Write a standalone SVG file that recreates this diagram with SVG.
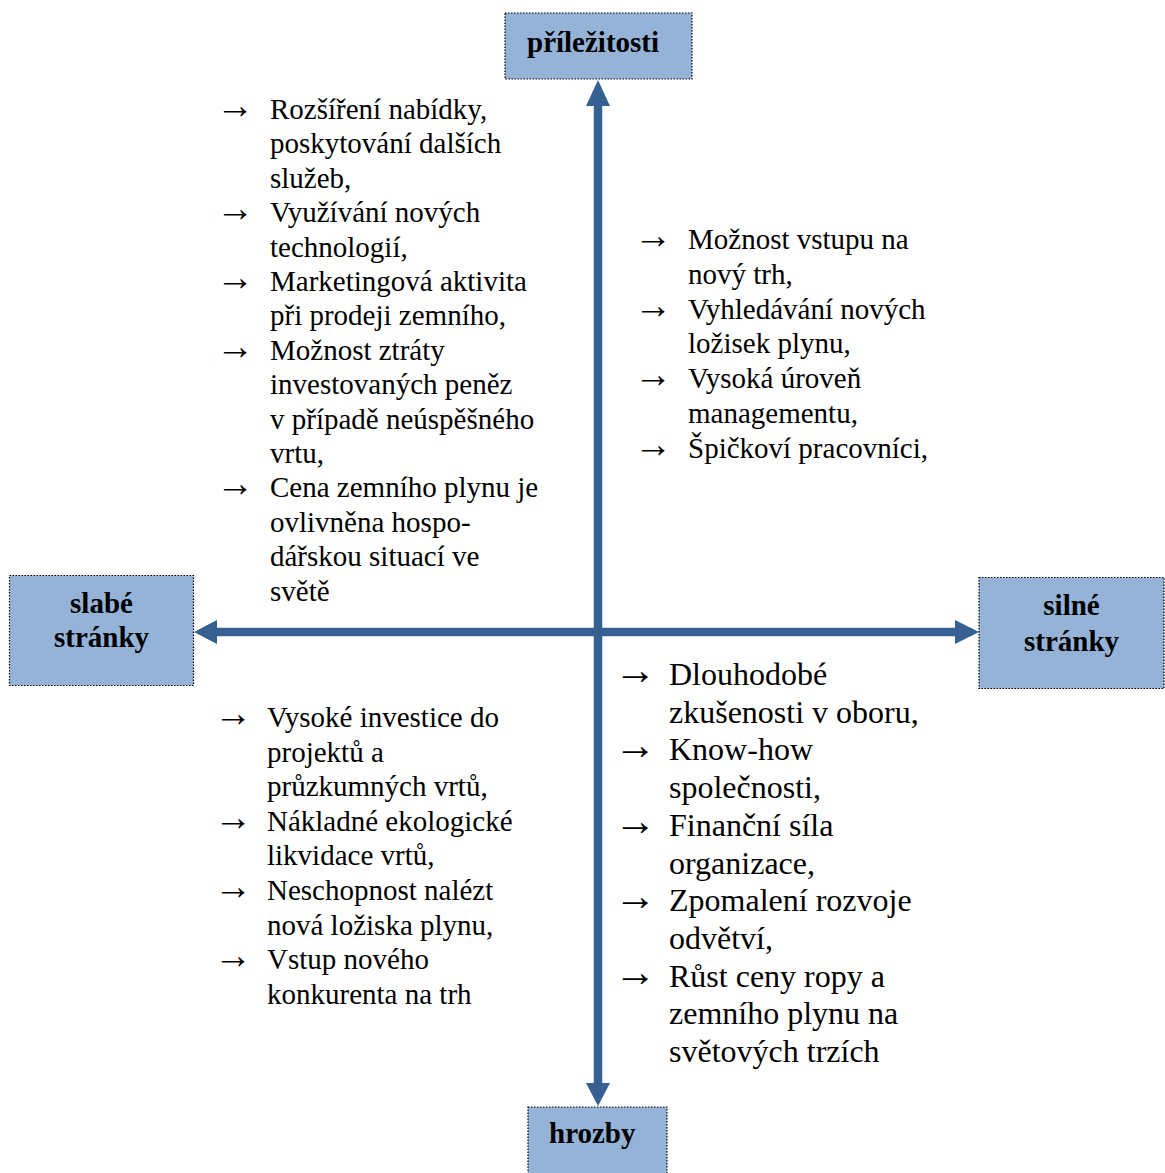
<svg xmlns="http://www.w3.org/2000/svg" width="1165" height="1173" viewBox="0 0 1165 1173">
<style>
.box{fill:#95B3D7;stroke:#000;stroke-width:1.2;stroke-dasharray:1.5 1.5}
.lbl{font-family:"Liberation Serif","Times New Roman",serif;font-weight:bold;font-size:29px;fill:#000}
.t{font-family:"Liberation Serif","Times New Roman",serif;font-size:29px;fill:#000}
.tb{font-family:"Liberation Serif","Times New Roman",serif;font-size:32px;fill:#000}
.ar{font-size:38px}
.tb .ar{font-size:42px}
.ax{stroke:#376092;stroke-width:8.5;fill:none}
.ah{fill:#376092}
</style>
<rect width="1165" height="1173" fill="#fff"/>
<g id="connectors">
<line class="ax" x1="598" y1="104" x2="598" y2="1085"/>
<line class="ax" x1="215" y1="632" x2="957" y2="632"/>
<polygon class="ah" points="598,80 586,106 610,106"/>
<polygon class="ah" points="598,1106 586,1083 610,1083"/>
<polygon class="ah" points="194,632 217,620 217,644"/>
<polygon class="ah" points="979,632 955,620 955,644"/>
</g>
<g id="prilezitosti">
<rect class="box" x="505" y="13" width="187" height="66"/>
<text class="lbl" x="527" y="52">příležitosti</text>
</g>
<g id="slabe">
<rect class="box" x="9.5" y="575.5" width="184" height="110"/>
<text class="lbl" x="101.5" y="613" text-anchor="middle">slabé</text>
<text class="lbl" x="101.5" y="647" text-anchor="middle">stránky</text>
</g>
<g id="silne">
<rect class="box" x="979" y="577.5" width="185" height="111"/>
<text class="lbl" x="1071.5" y="615" text-anchor="middle">silné</text>
<text class="lbl" x="1071.5" y="651" text-anchor="middle">stránky</text>
</g>
<g id="hrozby">
<rect class="box" x="528" y="1107" width="139" height="70"/>
<text class="lbl" x="549" y="1143">hrozby</text>
</g>
<g id="text-top-left" class="t">
<text class="ar" x="216" y="118">→</text><text x="270" y="119">Rozšíření nabídky,</text>
<text x="270" y="153.4">poskytování dalších</text>
<text x="270" y="187.8">služeb,</text>
<text class="ar" x="216" y="221.2">→</text><text x="270" y="222.2">Využívání nových</text>
<text x="270" y="256.6">technologií,</text>
<text class="ar" x="216" y="290">→</text><text x="270" y="291">Marketingová aktivita</text>
<text x="270" y="325.4">při prodeji zemního,</text>
<text class="ar" x="216" y="358.8">→</text><text x="270" y="359.8">Možnost ztráty</text>
<text x="270" y="394.2">investovaných peněz</text>
<text x="270" y="428.6">v případě neúspěšného</text>
<text x="270" y="463">vrtu,</text>
<text class="ar" x="216" y="496.4">→</text><text x="270" y="497.4">Cena zemního plynu je</text>
<text x="270" y="531.8">ovlivněna hospo-</text>
<text x="270" y="566.2">dářskou situací ve</text>
<text x="270" y="600.6">světě</text>
</g>
<g id="text-top-right" class="t">
<text class="ar" x="634" y="248">→</text><text x="688" y="249">Možnost vstupu na</text>
<text x="688" y="283.8">nový trh,</text>
<text class="ar" x="634" y="317.6">→</text><text x="688" y="318.6">Vyhledávání nových</text>
<text x="688" y="353.4">ložisek plynu,</text>
<text class="ar" x="634" y="387.2">→</text><text x="688" y="388.2">Vysoká úroveň</text>
<text x="688" y="423">managementu,</text>
<text class="ar" x="634" y="456.8">→</text><text x="688" y="457.8">Špičkoví pracovníci,</text>
</g>
<g id="text-bottom-left" class="t">
<text class="ar" x="214" y="726">→</text><text x="267" y="727">Vysoké investice do</text>
<text x="267" y="761.6">projektů a</text>
<text x="267" y="796.2">průzkumných vrtů,</text>
<text class="ar" x="214" y="829.8">→</text><text x="267" y="830.8">Nákladné ekologické</text>
<text x="267" y="865.4">likvidace vrtů,</text>
<text class="ar" x="214" y="899">→</text><text x="267" y="900">Neschopnost nalézt</text>
<text x="267" y="934.6">nová ložiska plynu,</text>
<text class="ar" x="214" y="968.2">→</text><text x="267" y="969.2">Vstup nového</text>
<text x="267" y="1003.8">konkurenta na trh</text>
</g>
<g id="text-bottom-right" class="tb">
<text class="ar" x="614" y="684">→</text><text x="669" y="685">Dlouhodobé</text>
<text x="669" y="722.7">zkušenosti v oboru,</text>
<text class="ar" x="614" y="759.4">→</text><text x="669" y="760.4">Know-how</text>
<text x="669" y="798.1">společnosti,</text>
<text class="ar" x="614" y="834.8">→</text><text x="669" y="835.8">Finanční síla</text>
<text x="669" y="873.5">organizace,</text>
<text class="ar" x="614" y="910.2">→</text><text x="669" y="911.2">Zpomalení rozvoje</text>
<text x="669" y="948.9">odvětví,</text>
<text class="ar" x="614" y="985.6">→</text><text x="669" y="986.6">Růst ceny ropy a</text>
<text x="669" y="1024.3">zemního plynu na</text>
<text x="669" y="1062">světových trzích</text>
</g>
</svg>
